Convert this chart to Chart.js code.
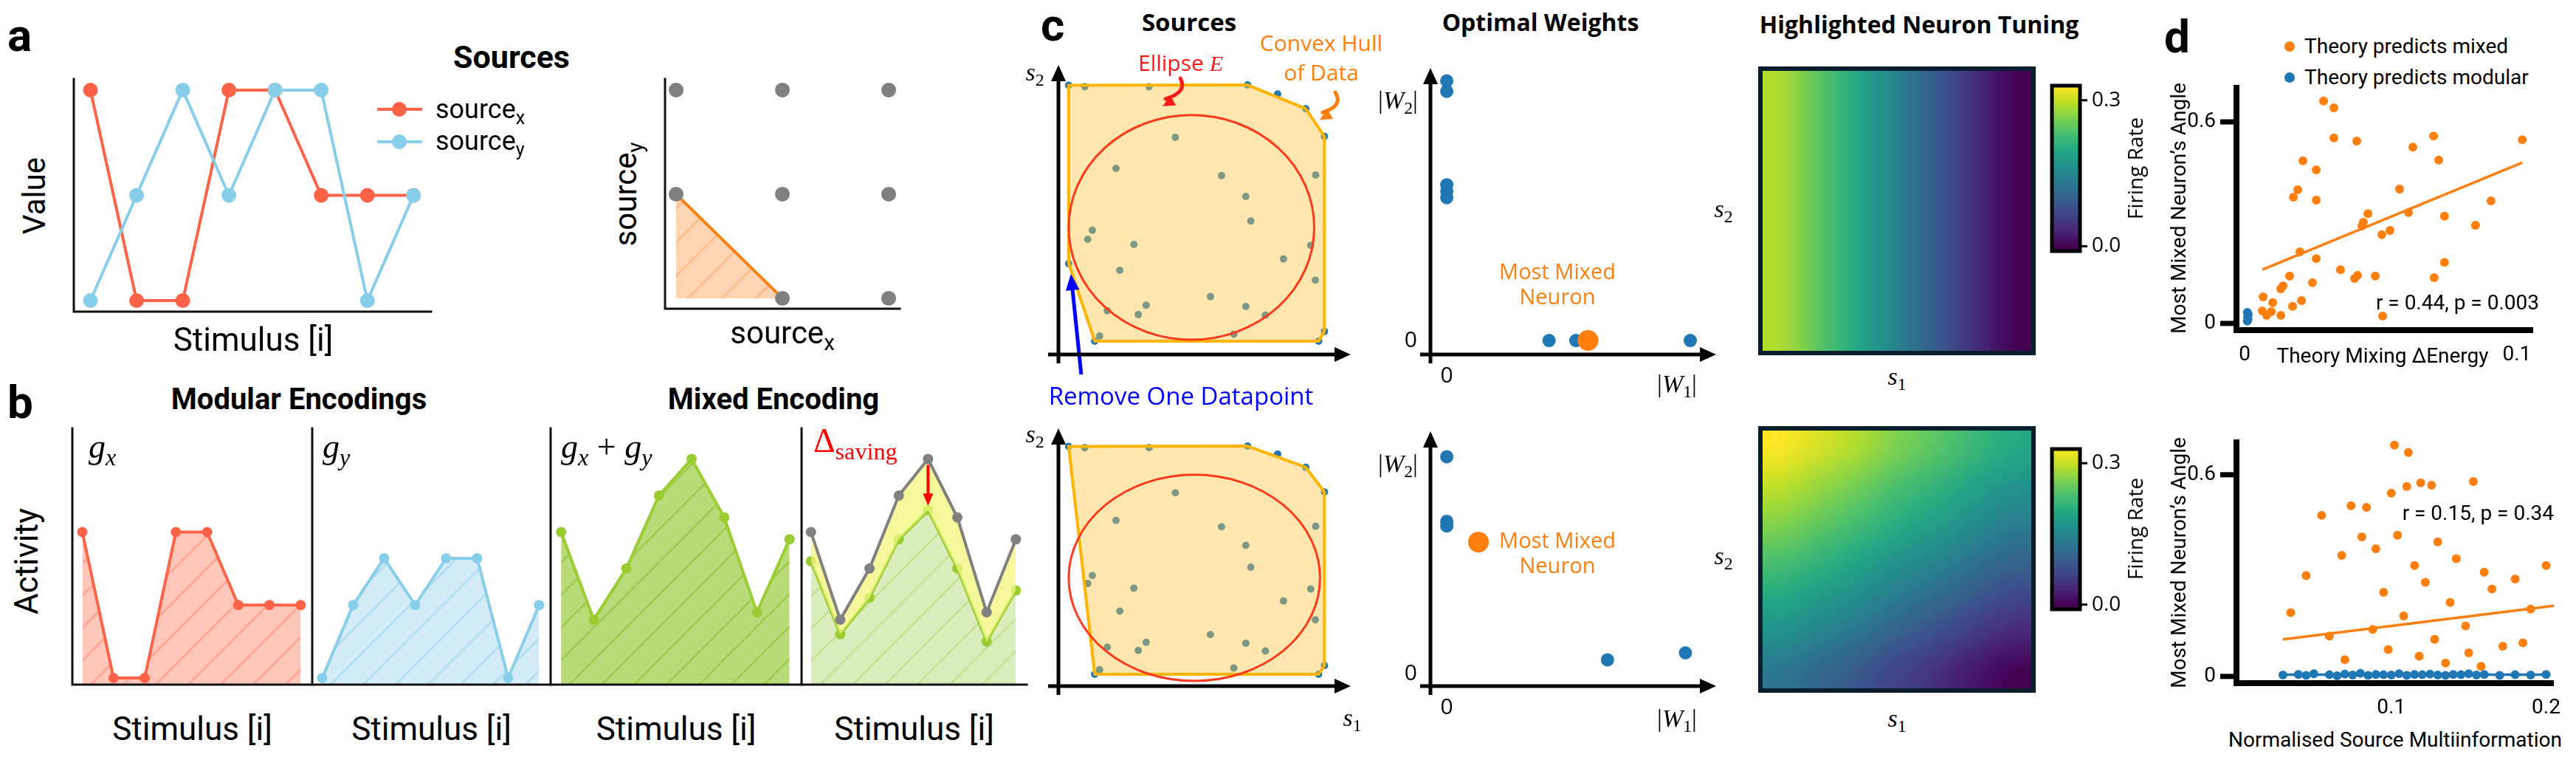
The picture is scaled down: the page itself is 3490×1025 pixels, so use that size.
<!DOCTYPE html>
<html>
<head>
<meta charset="utf-8">
<script src="https://cdn.jsdelivr.net/npm/chart.js@4.4.1/dist/chart.umd.min.js"></script>
<style>
html, body { margin: 0; padding: 0; background: #fff; }
#page { position: relative; width: 3490px; height: 1025px; overflow: hidden; background: #fff; color: #000; }
.t { position: absolute; white-space: nowrap; line-height: 1; }
.t sub { font-size: 0.7em; vertical-align: -0.3em; line-height: 0; }
</style>
</head>
<body>
<div id="page"></div>
<script>
// ---------- data: panel a ----------
const stimIdx = [0, 1, 2, 3, 4, 5, 6, 7];
const sourceX = [2, 0, 0, 2, 2, 1, 1, 1];
const sourceY = [0, 1, 2, 1, 2, 2, 0, 1];
const gridX = [1, 2, 0, 1, 2, 0, 1, 2];      // (0,0) is inside the triangle, not drawn
const gridY = [0, 0, 1, 1, 1, 2, 2, 2];
const corrX = [0, 1];
const corrY = [1, 0];

// ---------- data: panel b ----------
const gX = [1.0, 0, 0, 1.0, 1.0, 0.5, 0.5, 0.5];
const gY = [0, 0.5, 0.82, 0.5, 0.82, 0.82, 0, 0.5];
const gSum = [1.0, 0.4, 0.75, 1.25, 1.5, 1.1, 0.45, 0.95];
const gMixed = [0.8, 0.3, 0.55, 0.95, 1.15, 0.75, 0.25, 0.6];
const savingIdx = 4;

// ---------- data: panel c ----------
const srcS1 = [0.035, 0.09, 0.31, 0.647, 0.846, 0.91, 0.197, 0.116, 0.10, 0.258, 0.21, 0.167, 0.273, 0.141, 0.124,
               0.558, 0.641, 0.658, 0.88, 0.77, 0.863, 0.641, 0.708, 0.879, 0.91, 0.89, 0.40, 0.52, 0.30, 0.60, 0.75];
const srcS2 = [0.93, 0.925, 0.925, 0.931, 0.849, 0.753, 0.643, 0.429, 0.398, 0.38, 0.291, 0.151, 0.138, 0.064, 0.046,
               0.618, 0.546, 0.461, 0.62, 0.33, 0.377, 0.166, 0.136, 0.257, 0.08, 0.046, 0.75, 0.20, 0.17, 0.07, 0.9];
const removedS1 = [0.035];
const removedS2 = [0.314];
const hullTopS1 = [0.035, 0.647, 0.846, 0.91, 0.91, 0.89, 0.124, 0.035];
const hullTopS2 = [0.93, 0.931, 0.849, 0.753, 0.08, 0.046, 0.046, 0.314];
const hullBotS1 = [0.035, 0.647, 0.846, 0.91, 0.91, 0.89, 0.124];
const hullBotS2 = [0.93, 0.931, 0.849, 0.753, 0.08, 0.046, 0.046];
const ellipseTop = [0.455, 0.439, 0.42, 0.388];   // centre s1, centre s2, radius s1, radius s2
const ellipseBot = [0.465, 0.42, 0.43, 0.40];

const wTopW1 = [0, 0, 0, 0, 0, 0.42, 0.53, 1.0];
const wTopW2 = [1.0, 0.96, 0.60, 0.575, 0.55, 0, 0, 0];
const mixTopW1 = [0.58];
const mixTopW2 = [0];
const wBotW1 = [0, 0, 0, 0.66, 0.98];
const wBotW2 = [0.94, 0.66, 0.64, 0.06, 0.09];
const mixBotW1 = [0.13];
const mixBotW2 = [0.57];

// tuning maps, rows from s2 = 1 (top) to s2 = 0 (bottom), columns s1 = 0 .. 1
const tuneTop = [
  [0.29, 0.245, 0.195, 0.145, 0.095, 0.045, 0.0]
];
const tuneBot = [
  [0.33, 0.31, 0.29, 0.265, 0.245, 0.22, 0.20],
  [0.30, 0.28, 0.26, 0.235, 0.215, 0.19, 0.17],
  [0.27, 0.25, 0.23, 0.205, 0.185, 0.16, 0.14],
  [0.235, 0.215, 0.195, 0.17, 0.15, 0.125, 0.105],
  [0.20, 0.18, 0.16, 0.135, 0.115, 0.09, 0.07],
  [0.165, 0.145, 0.125, 0.10, 0.08, 0.055, 0.035],
  [0.13, 0.11, 0.09, 0.065, 0.045, 0.02, 0.0]
];
const cbarTicks = [0.0, 0.3];
const cbarLabels = ['0.0', '0.3'];

// ---------- data: panel d ----------
const dTopMixX = [0.029, 0.0328, 0.0328, 0.0412, 0.0618, 0.0694, 0.0713, 0.102, 0.0214, 0.0263, 0.0195, 0.0179, 0.0263,
                  0.0569, 0.0453, 0.0602, 0.0734, 0.0905, 0.0436, 0.0431, 0.0534, 0.0504, 0.0848, 0.0203, 0.0263, 0.0352,
                  0.0734, 0.0165, 0.0415, 0.0404, 0.048, 0.0696, 0.0249, 0.0141, 0.0133, 0.0068, 0.0209, 0.0176, 0.0103,
                  0.0065, 0.0098, 0.0081, 0.0133, 0.0507];
const dTopMixY = [0.662, 0.642, 0.552, 0.543, 0.525, 0.558, 0.486, 0.547, 0.484, 0.457, 0.398, 0.376, 0.367,
                  0.400, 0.327, 0.330, 0.319, 0.365, 0.301, 0.290, 0.277, 0.264, 0.292, 0.213, 0.193, 0.160,
                  0.182, 0.141, 0.143, 0.134, 0.141, 0.136, 0.121, 0.112, 0.103, 0.079, 0.068, 0.051, 0.062,
                  0.037, 0.035, 0.024, 0.024, 0.022];
const dTopModX = [0.001, 0.0012, 0.0011, 0.0013, 0.001];
const dTopModY = [0.007, 0.013, 0.02, 0.027, 0.033];
const dTopFitX = [0.0065, 0.102];
const dTopFitY = [0.160, 0.479];

const dBotMixX = [0.102, 0.111, 0.153, 0.110, 0.119, 0.126, 0.100, 0.074, 0.084, 0.055, 0.081, 0.104,
                  0.035, 0.045, 0.06, 0.068, 0.09, 0.095, 0.115, 0.122, 0.13, 0.138, 0.142, 0.148, 0.16, 0.165,
                  0.172, 0.18, 0.19, 0.2, 0.07, 0.088, 0.098, 0.108, 0.118, 0.128, 0.135, 0.15, 0.158, 0.185];
const dBotMixY = [0.688, 0.666, 0.580, 0.565, 0.576, 0.569, 0.545, 0.508, 0.503, 0.479, 0.415, 0.420,
                  0.19, 0.30, 0.12, 0.36, 0.38, 0.25, 0.33, 0.28, 0.40, 0.22, 0.35, 0.15, 0.31, 0.26,
                  0.09, 0.29, 0.20, 0.33, 0.05, 0.14, 0.08, 0.18, 0.06, 0.11, 0.04, 0.07, 0.03, 0.10];
const dBotModX = [0.03, 0.04, 0.045, 0.05, 0.06, 0.065, 0.07, 0.075, 0.08, 0.085, 0.09, 0.095, 0.1, 0.105, 0.11,
                  0.115, 0.12, 0.125, 0.13, 0.135, 0.14, 0.145, 0.15, 0.155, 0.16, 0.17, 0.18, 0.19, 0.2];
const dBotModY = [0.004, 0.006, 0.003, 0.008, 0.005, 0.002, 0.007, 0.004, 0.009, 0.003, 0.006, 0.005, 0.004, 0.008, 0.003,
                  0.006, 0.005, 0.007, 0.004, 0.003, 0.006, 0.005, 0.008, 0.004, 0.006, 0.003, 0.005, 0.004, 0.006];
const dBotFitX = [0.03, 0.205];
const dBotFitY = [0.11, 0.21];
const dBotModFitX = [0.03, 0.2];
const dBotModFitY = [0.005, 0.005];

// ---------- helpers ----------
const page = document.getElementById('page');
const ORANGE = '#ff7f0e', BLUE = '#1f77b4';

function pts(xs, ys) { return xs.map((x, i) => ({ x: x, y: ys[i] })); }

function text(html, x, bl, fs, opt = {}) {
  const d = document.createElement('div');
  d.className = 't';
  d.innerHTML = html;
  const fam = opt.font || 'Roboto';
  d.style.fontFamily = fam.indexOf(' ') > 0 ? '"' + fam + '"' : fam;
  d.style.fontSize = fs + 'px';
  if (opt.bold) d.style.fontWeight = 'bold';
  if (opt.color) d.style.color = opt.color;
  const k = fam === 'Open Sans' ? 0.89 : 0.86;
  d.style.top = (bl - k * fs) + 'px';
  d.style.left = x + 'px';
  const a = opt.align || 'c';
  d.style.transform = a === 'c' ? 'translateX(-50%)' : a === 'r' ? 'translateX(-100%)' : 'none';
  page.appendChild(d);
}

function vtext(html, cx, cy, fs, opt = {}) {
  const d = document.createElement('div');
  d.className = 't';
  d.innerHTML = html;
  const fam = opt.font || 'Roboto';
  d.style.fontFamily = fam.indexOf(' ') > 0 ? '"' + fam + '"' : fam;
  d.style.fontSize = fs + 'px';
  d.style.left = cx + 'px';
  d.style.top = cy + 'px';
  d.style.transform = 'translate(-50%, -50%) rotate(-90deg)';
  page.appendChild(d);
}

function makeChart(box, pad, datasets, range, plugins) {
  const w = document.createElement('div');
  w.style.position = 'absolute';
  w.style.left = (box[0] - pad.l) + 'px';
  w.style.top = (box[1] - pad.t) + 'px';
  w.style.width = (box[2] - box[0] + pad.l + pad.r) + 'px';
  w.style.height = (box[3] - box[1] + pad.t + pad.b) + 'px';
  const c = document.createElement('canvas');
  w.appendChild(c);
  page.appendChild(w);
  return new Chart(c, {
    type: 'line',
    data: { datasets: datasets },
    options: {
      responsive: true,
      maintainAspectRatio: false,
      animation: false,
      events: [],
      layout: { padding: { left: pad.l, top: pad.t, right: pad.r, bottom: pad.b } },
      plugins: { legend: { display: false }, tooltip: { enabled: false } },
      elements: { line: { tension: 0 } },
      scales: {
        x: { type: 'linear', display: false, min: range[0], max: range[1] },
        y: { type: 'linear', display: false, min: range[2], max: range[3] }
      }
    },
    plugins: plugins || []
  });
}

function lineSet(xs, ys, color, extra) {
  return Object.assign({
    data: pts(xs, ys), showLine: true, borderColor: color, backgroundColor: color,
    pointBackgroundColor: color, pointBorderWidth: 0, borderWidth: 4, pointRadius: 0, fill: false, clip: false
  }, extra || {});
}

function dotSet(xs, ys, color, r, extra) {
  return Object.assign({
    data: pts(xs, ys), showLine: false, borderColor: color, backgroundColor: color,
    pointBackgroundColor: color, pointBorderWidth: 0, pointRadius: r, clip: false
  }, extra || {});
}

function hatch(bg, line, size, lw) {
  const c = document.createElement('canvas');
  c.width = size; c.height = size;
  const x = c.getContext('2d');
  x.fillStyle = bg; x.fillRect(0, 0, size, size);
  x.strokeStyle = line; x.lineWidth = lw;
  x.beginPath();
  x.moveTo(-size / 2, size / 2); x.lineTo(size / 2, -size / 2);
  x.moveTo(0, size); x.lineTo(size, 0);
  x.moveTo(size / 2, size * 1.5); x.lineTo(size * 1.5, size / 2);
  x.stroke();
  return x.createPattern(c, 'repeat');
}

// L-shaped spines like matplotlib
function spines(lw) {
  return {
    id: 'spines',
    afterDatasetsDraw(ch) {
      const { ctx, chartArea: a } = ch;
      ctx.save();
      ctx.strokeStyle = '#111'; ctx.lineWidth = lw; ctx.lineJoin = 'miter'; ctx.lineCap = 'square';
      ctx.beginPath();
      ctx.moveTo(a.left, a.top); ctx.lineTo(a.left, a.bottom); ctx.lineTo(a.right, a.bottom);
      ctx.stroke();
      ctx.restore();
    }
  };
}

// axes with arrow heads (panel c)
function arrowAxes() {
  return {
    id: 'arrows',
    afterDatasetsDraw(ch) {
      const { ctx, chartArea: a } = ch;
      const head = 22, half = 10;
      ctx.save();
      ctx.strokeStyle = '#000'; ctx.fillStyle = '#000'; ctx.lineWidth = 5;
      ctx.beginPath();
      ctx.moveTo(a.left, a.bottom + 12); ctx.lineTo(a.left, a.top + head - 2);
      ctx.moveTo(a.left - 14, a.bottom); ctx.lineTo(a.right - head + 2, a.bottom);
      ctx.stroke();
      ctx.beginPath();
      ctx.moveTo(a.left, a.top); ctx.lineTo(a.left - half, a.top + head); ctx.lineTo(a.left + half, a.top + head); ctx.closePath();
      ctx.moveTo(a.right, a.bottom); ctx.lineTo(a.right - head, a.bottom - half); ctx.lineTo(a.right - head, a.bottom + half); ctx.closePath();
      ctx.fill();
      ctx.restore();
    }
  };
}

function curvyArrow(ctx, x0, y0, x1, y1, bend, color) {
  ctx.save();
  ctx.strokeStyle = color; ctx.fillStyle = color; ctx.lineWidth = 5; ctx.lineCap = 'round';
  const mx = (x0 + x1) / 2 + bend, my = (y0 + y1) / 2;
  ctx.beginPath(); ctx.moveTo(x0, y0); ctx.quadraticCurveTo(mx, my, x1 + 4, y1 - 10); ctx.stroke();
  const ang = Math.atan2(y1 - my, x1 - mx);
  ctx.beginPath();
  ctx.moveTo(x1, y1);
  ctx.lineTo(x1 - 18 * Math.cos(ang - 0.45), y1 - 18 * Math.sin(ang - 0.45));
  ctx.lineTo(x1 - 18 * Math.cos(ang + 0.45), y1 - 18 * Math.sin(ang + 0.45));
  ctx.closePath(); ctx.fill();
  ctx.restore();
}

function straightArrow(ctx, x0, y0, x1, y1, color, lw, head) {
  ctx.save();
  ctx.strokeStyle = color; ctx.fillStyle = color; ctx.lineWidth = lw;
  const ang = Math.atan2(y1 - y0, x1 - x0);
  ctx.beginPath(); ctx.moveTo(x0, y0);
  ctx.lineTo(x1 - head * 0.8 * Math.cos(ang), y1 - head * 0.8 * Math.sin(ang)); ctx.stroke();
  ctx.beginPath();
  ctx.moveTo(x1, y1);
  ctx.lineTo(x1 - head * Math.cos(ang - 0.4), y1 - head * Math.sin(ang - 0.4));
  ctx.lineTo(x1 - head * Math.cos(ang + 0.4), y1 - head * Math.sin(ang + 0.4));
  ctx.closePath(); ctx.fill();
  ctx.restore();
}

// viridis colour map
const VIR = [[68, 1, 84], [72, 36, 117], [65, 68, 135], [53, 95, 141], [42, 120, 142], [33, 145, 140],
             [34, 168, 132], [68, 190, 112], [122, 209, 81], [189, 223, 38], [253, 231, 37]];
const VMIN = 0.0, VMAX = 0.33;
function viridis(v) {
  let f = Math.max(0, Math.min(1, (v - VMIN) / (VMAX - VMIN))) * 10;
  const i = Math.min(9, Math.floor(f)), t = f - i;
  const a = VIR[i], b = VIR[i + 1];
  return [0, 1, 2].map(k => Math.round(a[k] + (b[k] - a[k]) * t));
}

function heatPlugin(grid) {
  return {
    id: 'heat',
    beforeDatasetsDraw(ch) {
      const { ctx, scales: { x, y } } = ch;
      const rows = grid.length, cols = grid[0].length;
      const off = document.createElement('canvas');
      off.width = cols; off.height = rows;
      const o = off.getContext('2d');
      const img = o.createImageData(cols, rows);
      grid.forEach((row, r) => row.forEach((v, c) => {
        const col = viridis(v), p = (r * cols + c) * 4;
        img.data[p] = col[0]; img.data[p + 1] = col[1]; img.data[p + 2] = col[2]; img.data[p + 3] = 255;
      }));
      o.putImageData(img, 0, 0);
      const x0 = x.getPixelForValue(0), x1 = x.getPixelForValue(1);
      const y0 = y.getPixelForValue(1), y1 = y.getPixelForValue(0);
      ctx.save();
      ctx.imageSmoothingEnabled = true;
      ctx.imageSmoothingQuality = 'high';
      ctx.drawImage(off, x0, y0, x1 - x0, y1 - y0);
      ctx.strokeStyle = '#0b1e2d'; ctx.lineWidth = 6;
      ctx.strokeRect(x0, y0, x1 - x0, y1 - y0);
      ctx.restore();
    }
  };
}

function cbarPlugin() {
  return {
    id: 'cbar',
    beforeDatasetsDraw(ch) {
      const { ctx, chartArea: a, scales: { y } } = ch;
      ctx.save();
      const n = 120;
      for (let i = 0; i < n; i++) {
        const v0 = y.min + (y.max - y.min) * i / n, v1 = y.min + (y.max - y.min) * (i + 1) / n;
        const c = viridis((v0 + v1) / 2);
        ctx.fillStyle = 'rgb(' + c.join(',') + ')';
        const p0 = y.getPixelForValue(v0), p1 = y.getPixelForValue(v1);
        ctx.fillRect(a.left, p1, a.right - a.left, p0 - p1 + 1);
      }
      ctx.strokeStyle = '#000'; ctx.lineWidth = 5;
      ctx.strokeRect(a.left, a.top, a.right - a.left, a.bottom - a.top);
      ctx.fillStyle = '#000'; ctx.font = '28px "Open Sans"'; ctx.textBaseline = 'middle';
      cbarTicks.forEach((v, i) => {
        const py = y.getPixelForValue(v);
        ctx.fillRect(a.right, py - 1.5, 10, 3);
        ctx.fillText(cbarLabels[i], a.right + 16, py);
      });
      ctx.restore();
    }
  };
}

// thick matplotlib-like axes for panel d
function dAxes(xTicks, xLabels, yTicks, yLabels) {
  return {
    id: 'daxes',
    afterDatasetsDraw(ch) {
      const { ctx, chartArea: a, scales: { x, y } } = ch;
      ctx.save();
      ctx.strokeStyle = '#000'; ctx.fillStyle = '#000'; ctx.lineWidth = 8; ctx.lineCap = 'butt';
      ctx.beginPath();
      ctx.moveTo(a.left, a.top); ctx.lineTo(a.left, a.bottom + 4);
      ctx.moveTo(a.left - 4, a.bottom); ctx.lineTo(a.right, a.bottom);
      ctx.stroke();
      ctx.font = '28px Roboto';
      ctx.textAlign = 'right'; ctx.textBaseline = 'middle';
      yTicks.forEach((v, i) => {
        const py = y.getPixelForValue(v);
        ctx.fillRect(a.left - 22, py - 3.5, 22, 7);
        ctx.fillText(yLabels[i], a.left - 28, py);
      });
      ctx.textAlign = 'center'; ctx.textBaseline = 'top';
      xTicks.forEach((v, i) => {
        const px = x.getPixelForValue(v);
        ctx.fillText(xLabels[i], px, a.bottom + 20);
      });
      ctx.restore();
    }
  };
}

// ================= panel a =================
text('a', 10, 70, 62, { bold: true, align: 'l' });
text('Sources', 693, 93, 43, { bold: true });

makeChart([100, 107, 584, 422], { l: 20, t: 20, r: 20, b: 20 }, [
  lineSet(stimIdx, sourceX, '#ff6347', { pointRadius: 10, order: 1 }),
  lineSet(stimIdx, sourceY, '#87ceeb', { pointRadius: 10, order: 0 })
], [-0.36, 7.38, -0.105, 2.105], [spines(3)]);

// legend of a
[['#ff6347', 148, 'source<sub>x</sub>', 161], ['#87ceeb', 192, 'source<sub>y</sub>', 204]].forEach(l => {
  const ln = document.createElement('div');
  ln.style.cssText = 'position:absolute;left:511px;top:' + (l[1] - 2) + 'px;width:61px;height:4px;background:' + l[0];
  const dot = document.createElement('div');
  dot.style.cssText = 'position:absolute;left:531px;top:' + (l[1] - 10) + 'px;width:20px;height:20px;border-radius:50%;background:' + l[0];
  page.appendChild(ln); page.appendChild(dot);
  text(l[2], 590, l[3], 36, { align: 'l' });
});
vtext('Value', 47, 265, 42);
text('Stimulus [i]', 343, 476, 44);

const triFill = hatch('#fdd5b2', '#fdbd8c', 46, 3);
makeChart([901, 107, 1219, 418], { l: 20, t: 20, r: 20, b: 20 }, [
  dotSet(gridX, gridY, '#808080', 10),
  lineSet(corrX, corrY, ORANGE, { fill: { value: 0 }, backgroundColor: triFill, borderWidth: 4 })
], [-0.104, 2.104, -0.1, 2.106], [spines(3)]);
vtext('source<sub>y</sub>', 848, 263, 42);
text('source<sub>x</sub>', 1060, 466, 42);

// ================= panel b =================
text('b', 10, 567, 62, { bold: true, align: 'l' });
text('Modular Encodings', 405, 555, 40, { bold: true });
text('Mixed Encoding', 1048, 555, 40, { bold: true });
vtext('Activity', 36, 760, 44);

const bRange = [-0.32, 7.37, -0.045, 1.71];
const bPad = { l: 12, t: 12, r: 12, b: 12 };
const bBoxes = [[98, 580, 423, 927], [423, 580, 746, 927], [746, 580, 1086, 927], [1086, 580, 1391, 927]];

makeChart(bBoxes[0], bPad, [
  lineSet(stimIdx, gX, '#ff6347', { pointRadius: 7, fill: 'start', backgroundColor: hatch('#ffc6ba', '#ffa896', 44, 3) })
], bRange, [spines(3)]);
makeChart(bBoxes[1], bPad, [
  lineSet(stimIdx, gY, '#87ceeb', { pointRadius: 7, fill: 'start', backgroundColor: hatch('#d3ecf8', '#b3def2', 44, 3) })
], bRange, [spines(3)]);
makeChart(bBoxes[2], bPad, [
  lineSet(stimIdx, gSum, '#9acd32', { pointRadius: 7, fill: 'start', backgroundColor: hatch('#b9dc78', '#9fcd4f', 44, 3) })
], bRange, [spines(3)]);
makeChart(bBoxes[3], bPad, [
  lineSet(stimIdx, gSum, '#808080', { pointRadius: 7, fill: '+1', backgroundColor: 'rgba(240, 245, 120, 0.75)' }),
  lineSet(stimIdx, gMixed, '#9acd32', { pointRadius: 7, fill: 'start', backgroundColor: hatch('#dcedbd', '#c4e194', 44, 3) })
], bRange, [spines(3), {
  id: 'saving',
  afterDatasetsDraw(ch) {
    const { ctx, scales: { x, y } } = ch;
    const px = x.getPixelForValue(stimIdx[savingIdx]);
    straightArrow(ctx, px, y.getPixelForValue(gSum[savingIdx]) + 8, px, y.getPixelForValue(gMixed[savingIdx]) - 6, '#ff0000', 4, 18);
  }
}]);

text('<i>g<sub>x</sub></i>', bBoxes[0][0] + 22, 622, 46, { font: 'Liberation Serif', align: 'l' });
text('<i>g<sub>y</sub></i>', bBoxes[1][0] + 14, 622, 46, { font: 'Liberation Serif', align: 'l' });
text('<i>g<sub>x</sub></i> + <i>g<sub>y</sub></i>', bBoxes[2][0] + 14, 622, 46, { font: 'Liberation Serif', align: 'l' });
text('Δ<sub>saving</sub>', bBoxes[3][0] + 16, 614, 46, { font: 'Liberation Serif', align: 'l', color: '#ff0000' });
bBoxes.forEach(b => text('Stimulus [i]', (b[0] + b[2]) / 2, 1003, 44));

// ================= panel c =================
text('c', 1410, 56, 62, { bold: true, align: 'l' });
text('Sources', 1611, 42, 33, { bold: true, font: 'Open Sans' });
text('Optimal Weights', 2087, 42, 32, { bold: true, font: 'Open Sans' });
text('Highlighted Neuron Tuning', 2600, 45, 32, { bold: true, font: 'Open Sans' });

function sourcesPlugin(hx, hy, el, top) {
  return {
    id: 'sources',
    afterDatasetsDraw(ch) {
      const { ctx, chartArea: a, scales: { x, y } } = ch;
      ctx.save();
      ctx.beginPath();
      hx.forEach((v, i) => {
        const px = x.getPixelForValue(v), py = y.getPixelForValue(hy[i]);
        if (i === 0) ctx.moveTo(px, py); else ctx.lineTo(px, py);
      });
      ctx.closePath();
      ctx.fillStyle = 'rgba(255, 198, 64, 0.42)';
      ctx.fill();
      ctx.strokeStyle = '#ffb400'; ctx.lineWidth = 4; ctx.lineJoin = 'round';
      ctx.stroke();
      const cx = x.getPixelForValue(el[0]), cy = y.getPixelForValue(el[1]);
      const rx = x.getPixelForValue(el[0] + el[2]) - cx, ry = cy - y.getPixelForValue(el[1] + el[3]);
      ctx.beginPath();
      ctx.ellipse(cx, cy, rx, ry, 0, 0, Math.PI * 2);
      ctx.strokeStyle = '#ff3a1a'; ctx.lineWidth = 3;
      ctx.stroke();
      ctx.restore();
      if (top) {
        const rpx = x.getPixelForValue(removedS1[0]), rpy = y.getPixelForValue(removedS2[0]);
        straightArrow(ctx, rpx + 17, rpy + 150, rpx + 3, rpy + 14, '#0000ff', 5, 24);
        const ey = y.getPixelForValue(el[1] + el[3]);
        curvyArrow(ctx, cx - 15, a.top + 18, cx - 39, ey - 12, 22, '#ff1a1a');
        const hxp = x.getPixelForValue(hx[2]), hyp = y.getPixelForValue(hy[2]);
        curvyArrow(ctx, hxp + 40, hyp - 22, hxp + 19, hyp + 15, 22, ORANGE);
      }
    }
  };
}

const c1Range = [0, 1, 0, 1];
makeChart([1434, 88, 1830, 480], { l: 30, t: 10, r: 20, b: 50 }, [
  dotSet(srcS1, srcS2, BLUE, 5),
  dotSet(removedS1, removedS2, BLUE, 5)
], c1Range, [sourcesPlugin(hullTopS1, hullTopS2, ellipseTop, true), arrowAxes()]);

makeChart([1434, 580, 1830, 929], { l: 30, t: 10, r: 20, b: 30 }, [
  dotSet(srcS1, srcS2, BLUE, 5)
], c1Range, [sourcesPlugin(hullBotS1, hullBotS2, ellipseBot, false), arrowAxes()]);

text('<i>s</i><sub>2</sub>', 1402, 110, 34, { font: 'Liberation Serif' });
text('<i>s</i><sub>2</sub>', 1402, 600, 34, { font: 'Liberation Serif' });
text('<i>s</i><sub>1</sub>', 1832, 984, 34, { font: 'Liberation Serif' });
text('Ellipse <i style="font-family:\'Liberation Serif\'">E</i>', 1657, 97, 30, { font: 'Open Sans', align: 'r', color: '#ff1a1a' });
text('Convex Hull', 1790, 70, 30, { font: 'Open Sans', color: ORANGE });
text('of Data', 1790, 110, 30, { font: 'Open Sans', color: ORANGE });
text('Remove One Datapoint', 1600, 548, 33, { font: 'Open Sans', color: '#0000ff' });

function zeroTicks() {
  return {
    id: 'zero',
    afterDatasetsDraw(ch) {
      const { ctx, chartArea: a, scales: { x, y } } = ch;
      ctx.save();
      ctx.fillStyle = '#000'; ctx.font = '30px "Open Sans"';
      ctx.textAlign = 'right'; ctx.textBaseline = 'middle';
      ctx.fillText('0', a.left - 18, y.getPixelForValue(0));
      ctx.textAlign = 'center'; ctx.textBaseline = 'top';
      ctx.fillText('0', x.getPixelForValue(0), a.bottom + 14);
      ctx.restore();
    }
  };
}

const c2Range = [-0.067, 1.106, -0.054, 1.05];
makeChart([1938, 88, 2325, 480], { l: 60, t: 10, r: 20, b: 60 }, [
  dotSet(wTopW1, wTopW2, BLUE, 9, { order: 1 }),
  dotSet(mixTopW1, mixTopW2, ORANGE, 14, { order: 0 })
], c2Range, [arrowAxes(), zeroTicks()]);
makeChart([1938, 580, 2325, 929], { l: 60, t: 10, r: 20, b: 60 }, [
  dotSet(wBotW1, wBotW2, BLUE, 9, { order: 1 }),
  dotSet(mixBotW1, mixBotW2, ORANGE, 14, { order: 0 })
], c2Range, [arrowAxes(), zeroTicks()]);

text('|<i>W</i><sub>2</sub>|', 1894, 148, 34, { font: 'Liberation Serif' });
text('|<i>W</i><sub>2</sub>|', 1894, 640, 34, { font: 'Liberation Serif' });
text('|<i>W</i><sub>1</sub>|', 2272, 532, 34, { font: 'Liberation Serif' });
text('|<i>W</i><sub>1</sub>|', 2272, 985, 34, { font: 'Liberation Serif' });
text('Most Mixed', 2110, 378, 29, { font: 'Open Sans', color: ORANGE });
text('Neuron', 2110, 412, 29, { font: 'Open Sans', color: ORANGE });
text('Most Mixed', 2110, 742, 29, { font: 'Open Sans', color: ORANGE });
text('Neuron', 2110, 776, 29, { font: 'Open Sans', color: ORANGE });

makeChart([2385, 93, 2755, 478], { l: 10, t: 10, r: 10, b: 10 }, [dotSet([], [], '#000', 0)],
  [0, 1, 0, 1], [heatPlugin(tuneTop)]);
makeChart([2385, 580, 2755, 935], { l: 10, t: 10, r: 10, b: 10 }, [dotSet([], [], '#000', 0)],
  [0, 1, 0, 1], [heatPlugin(tuneBot)]);
makeChart([2780, 116, 2818, 340], { l: 10, t: 10, r: 80, b: 10 }, [dotSet([], [], '#000', 0)],
  [0, 1, -0.01, 0.33], [cbarPlugin()]);
makeChart([2780, 608, 2818, 825], { l: 10, t: 10, r: 80, b: 10 }, [dotSet([], [], '#000', 0)],
  [0, 1, -0.01, 0.33], [cbarPlugin()]);
vtext('Firing Rate', 2892, 228, 28, { font: 'Open Sans' });
vtext('Firing Rate', 2892, 716, 28, { font: 'Open Sans' });
text('<i>s</i><sub>2</sub>', 2335, 295, 34, { font: 'Liberation Serif' });
text('<i>s</i><sub>2</sub>', 2335, 765, 34, { font: 'Liberation Serif' });
text('<i>s</i><sub>1</sub>', 2570, 522, 34, { font: 'Liberation Serif' });
text('<i>s</i><sub>1</sub>', 2570, 985, 34, { font: 'Liberation Serif' });

// ================= panel d =================
text('d', 2932, 72, 62, { bold: true, align: 'l' });
[[ORANGE, 63, 'Theory predicts mixed'], [BLUE, 105, 'Theory predicts modular']].forEach(l => {
  const dot = document.createElement('div');
  dot.style.cssText = 'position:absolute;left:' + (3102 - 7) + 'px;top:' + (l[1] - 7) + 'px;width:14px;height:14px;border-radius:50%;background:' + l[0];
  page.appendChild(dot);
  text(l[2], 3122, l[1] + 10, 28, { align: 'l' });
});

makeChart([3030, 115, 3432, 447], { l: 90, t: 10, r: 20, b: 60 }, [
  lineSet(dTopFitX, dTopFitY, ORANGE, { borderWidth: 3.5, order: 2 }),
  dotSet(dTopMixX, dTopMixY, ORANGE, 6, { order: 1 }),
  dotSet(dTopModX, dTopModY, BLUE, 6, { order: 0 })
], [-0.003, 0.106, -0.02, 0.71], [dAxes([0, 0.1], ['0', '0.1'], [0, 0.6], ['0', '0.6'])]);
text('Theory Mixing ΔEnergy', 3228, 492, 28);
text('r = 0.44, p = 0.003', 3440, 420, 28, { align: 'r' });
vtext('Most Mixed Neuron’s Angle', 2952, 282, 28);

makeChart([3030, 595, 3460, 925], { l: 90, t: 10, r: 20, b: 60 }, [
  lineSet(dBotFitX, dBotFitY, ORANGE, { borderWidth: 3.5, order: 3 }),
  lineSet(dBotModFitX, dBotModFitY, BLUE, { borderWidth: 3.5, order: 2 }),
  dotSet(dBotMixX, dBotMixY, ORANGE, 6, { order: 1 }),
  dotSet(dBotModX, dBotModY, BLUE, 6, { order: 0 })
], [0.0, 0.205, -0.02, 0.705], [dAxes([0.1, 0.2], ['0.1', '0.2'], [0, 0.6], ['0', '0.6'])]);
text('Normalised Source Multiinformation', 3245, 1012, 28);
text('r = 0.15, p = 0.34', 3460, 705, 28, { align: 'r' });
vtext('Most Mixed Neuron’s Angle', 2952, 762, 28);
</script>
</body>
</html>
